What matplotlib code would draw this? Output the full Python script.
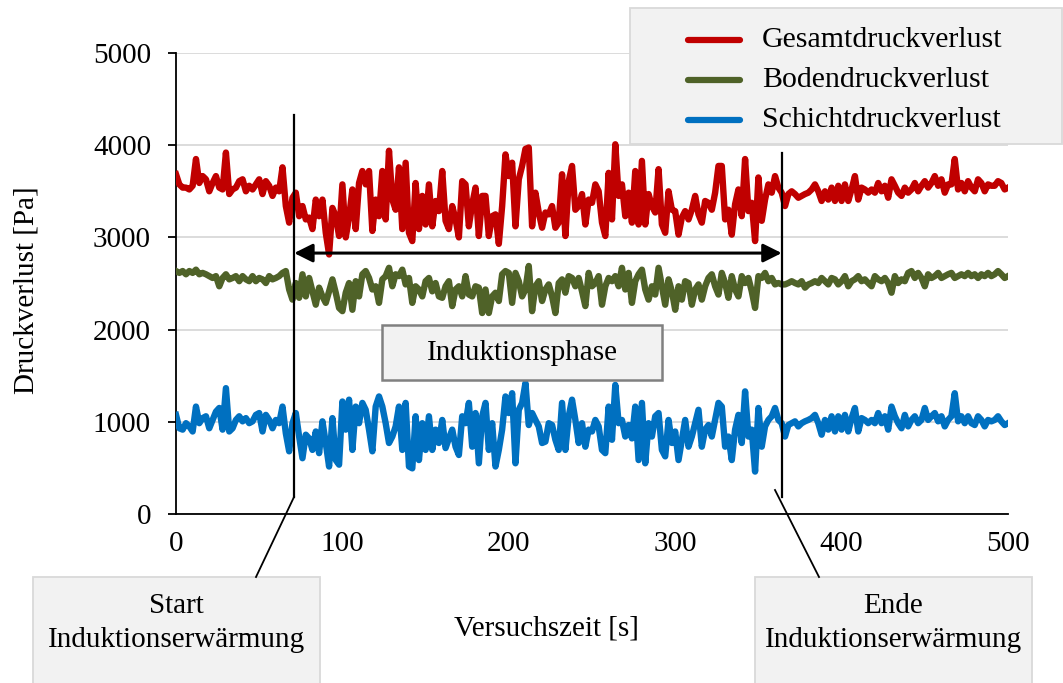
import numpy as np
import matplotlib
matplotlib.use("Agg")
import matplotlib.pyplot as plt
from matplotlib.patches import Rectangle
from matplotlib.lines import Line2D

plt.rcParams['font.family'] = ['Liberation Serif', 'DejaVu Serif']

zeit = np.arange(0, 501, 2)

gesamt = [
    3685, 3575, 3540, 3540, 3520, 3560, 3850, 3590, 3665, 3630, 3500, 3590,
    3665, 3540, 3520, 3920, 3470, 3520, 3540, 3610, 3630, 3500, 3560, 3520,
    3575, 3630, 3470, 3610, 3560, 3450, 3540, 3500, 3760, 3340, 3160, 3430,
    3485, 3230, 3340, 3195, 3215, 3090, 3410, 3230, 3410, 3050, 2815, 3320,
    3230, 3015, 3575, 3000, 3215, 3520, 3090, 3590, 3720, 3575, 3720, 3070,
    3410, 3230, 3720, 3195, 3940, 3410, 3300, 3760, 3090, 3810, 3050, 2960,
    3590, 3090, 3450, 3140, 3575, 3120, 3395, 3285, 3720, 3180, 3090, 3340,
    3195, 3000, 3610, 3575, 3120, 3360, 3540, 3015, 3450, 3450, 3015, 3230,
    3250, 2930, 3340, 3900, 3665, 3810, 3120, 3630, 3775, 3960, 3975, 3120,
    3485, 3270, 3105, 3270, 3250, 3340, 3105, 3160, 3685, 3015, 3610, 3775,
    3300, 3340, 3470, 3140, 3410, 3375, 3575, 3500, 3160, 3015, 3700, 3195,
    4010, 3450, 3575, 3230, 3485, 3160, 3720, 3140, 3830, 3140, 3470, 3340,
    3270, 3740, 3140, 3050, 3500, 3300, 3285, 3030, 3215, 3285, 3195, 3300,
    3450, 3250, 3160, 3395, 3375, 3300, 3485, 3775, 3775, 3195, 3300, 3030,
    3360, 3520, 3230, 3850, 3285, 3375, 2960, 3650, 3180, 3410, 3575, 3485,
    3665, 3540, 3485, 3340, 3470, 3500, 3470, 3430, 3450, 3470, 3485, 3520,
    3575, 3500, 3395, 3500, 3410, 3540, 3395, 3560, 3395, 3575, 3395, 3520,
    3665, 3410, 3540, 3520, 3485, 3520, 3485, 3590, 3500, 3560, 3430, 3630,
    3560, 3485, 3450, 3540, 3485, 3520, 3590, 3500, 3560, 3610, 3540, 3590,
    3665, 3560, 3630, 3485, 3575, 3575, 3850, 3520, 3590, 3500, 3610, 3540,
    3500, 3630, 3590, 3500, 3575, 3560, 3560, 3610, 3590, 3520, 3540,
]

boden = [
    2635, 2615, 2635, 2600, 2635, 2615, 2650, 2600, 2615, 2600, 2580, 2560,
    2580, 2470, 2560, 2600, 2545, 2560, 2580, 2525, 2580, 2545, 2525, 2580,
    2525, 2560, 2545, 2505, 2580, 2545, 2560, 2580, 2615, 2635, 2435, 2325,
    2505, 2345, 2600, 2360, 2560, 2415, 2270, 2455, 2360, 2290, 2415, 2545,
    2400, 2235, 2200, 2400, 2505, 2215, 2525, 2360, 2600, 2635, 2560, 2435,
    2470, 2290, 2545, 2580, 2670, 2470, 2600, 2580, 2650, 2490, 2560, 2290,
    2470, 2435, 2360, 2525, 2560, 2415, 2505, 2360, 2345, 2470, 2525, 2255,
    2435, 2470, 2360, 2580, 2380, 2360, 2470, 2455, 2180, 2435, 2180, 2360,
    2400, 2310, 2600, 2635, 2615, 2290, 2615, 2525, 2360, 2435, 2690, 2200,
    2470, 2525, 2310, 2435, 2490, 2360, 2180, 2505, 2545, 2400, 2580, 2560,
    2470, 2560, 2415, 2255, 2615, 2470, 2505, 2580, 2270, 2470, 2560, 2525,
    2580, 2470, 2670, 2435, 2615, 2290, 2525, 2600, 2650, 2435, 2325, 2470,
    2380, 2670, 2470, 2270, 2545, 2415, 2215, 2470, 2325, 2525, 2505, 2270,
    2435, 2490, 2325, 2470, 2560, 2600, 2470, 2380, 2615, 2505, 2345, 2580,
    2435, 2360, 2580, 2505, 2560, 2415, 2235, 2580, 2560, 2615, 2525, 2560,
    2490, 2505, 2490, 2490, 2505, 2525, 2505, 2490, 2525, 2455, 2490, 2505,
    2525, 2505, 2560, 2525, 2490, 2560, 2545, 2490, 2525, 2580, 2470, 2525,
    2545, 2580, 2525, 2545, 2505, 2470, 2580, 2545, 2525, 2560, 2505, 2400,
    2580, 2505, 2545, 2525, 2615, 2635, 2560, 2615, 2560, 2470, 2600, 2560,
    2580, 2615, 2560, 2580, 2600, 2615, 2560, 2580, 2600, 2580, 2615, 2580,
    2600, 2560, 2600, 2580, 2615, 2580, 2600, 2635, 2600, 2560, 2580,
]

schicht = [
    1075, 930, 915, 985, 950, 895, 1165, 985, 1040, 1060, 930, 1020,
    1110, 1150, 915, 1365, 895, 930, 1020, 1060, 1005, 1040, 985, 1005,
    1075, 1095, 895, 1075, 1020, 930, 1020, 985, 1165, 875, 680, 985,
    1095, 840, 605, 860, 820, 695, 895, 660, 1005, 770, 515, 1040,
    585, 535, 1220, 915, 1240, 695, 1165, 985, 1205, 1130, 915, 680,
    1165, 1275, 1165, 985, 770, 840, 950, 1165, 695, 1205, 515, 495,
    1060, 585, 985, 695, 1060, 695, 915, 770, 1020, 715, 820, 915,
    730, 640, 1060, 985, 1205, 730, 1095, 550, 1060, 1205, 695, 985,
    515, 695, 915, 1275, 1095, 1310, 550, 1130, 1205, 1420, 965, 1095,
    1020, 950, 770, 785, 985, 965, 805, 695, 1205, 695, 1060, 1240,
    1020, 770, 985, 730, 915, 895, 1020, 950, 695, 660, 1165, 805,
    1400, 985, 1020, 840, 965, 820, 1165, 585, 1205, 550, 985, 840,
    1060, 1095, 695, 625, 1020, 770, 895, 585, 805, 1020, 730, 840,
    985, 1130, 730, 915, 965, 840, 1020, 1205, 1165, 730, 840, 585,
    915, 1075, 770, 1330, 840, 915, 460, 1150, 730, 950, 1020, 1060,
    1150, 1020, 985, 840, 965, 985, 1005, 950, 985, 1005, 1020, 1040,
    1075, 985, 860, 1020, 915, 1060, 895, 1060, 915, 1075, 895, 1040,
    1150, 895, 1040, 1020, 985, 1020, 985, 1095, 985, 1060, 915, 1165,
    1060, 985, 930, 1075, 950, 1020, 1060, 985, 1020, 1150, 1020, 1060,
    1095, 1005, 1060, 950, 1020, 1060, 1310, 1005, 1060, 985, 1060, 985,
    965, 1060, 1020, 950, 1020, 1005, 1020, 1060, 1005, 965, 985,
]

namen = ["Gesamtdruckverlust", "Bodendruckverlust", "Schichtdruckverlust"]
farben = ["#C00000", "#4F6228", "#0070C0"]

t_start = 71
t_ende = 364

fs = 21

W, H = 1063, 683
fig = plt.figure(figsize=(W / 100, H / 100), dpi=100)


def fx(px):
    return px / W


def fy(py):
    return 1 - py / H


ax = fig.add_axes([fx(176), fy(514), fx(1008) - fx(176), fy(53) - fy(514)])

for werte, farbe in zip([gesamt, boden, schicht], farben):
    ax.plot(zeit, werte, color=farbe, lw=4.6, solid_joinstyle='round', zorder=3)

ax.set_xlim(0, 500)
ax.set_ylim(0, 5000)
ax.set_xticks([0, 100, 200, 300, 400, 500])
ax.set_yticks([0, 1000, 2000, 3000, 4000, 5000])
ax.yaxis.grid(True, color="#d9d9d9", lw=1.3)
ax.set_axisbelow(True)
for s in ["top", "right"]:
    ax.spines[s].set_visible(False)
ax.spines["left"].set_linewidth(1.3)
ax.spines["bottom"].set_linewidth(1.3)
ax.tick_params(axis="y", direction="out", length=6, width=1.3, pad=12, labelsize=fs)
ax.tick_params(axis="x", length=0, pad=12, labelsize=fs)

fig.text(fx(27), fy(290), "Druckverlust [Pa]", rotation=90, ha="center", va="center", fontsize=fs)
fig.text(fx(546), fy(628), "Versuchszeit [s]", ha="center", va="center", fontsize=fs)

# Start / Ende Linien und Pfeil
ax.plot([t_start, t_start], [184, 4328], color="black", lw=1.6, zorder=5)
ax.plot([t_ende, t_ende], [184, 3915], color="black", lw=1.6, zorder=5)
ax.annotate("", xy=(t_start, 2830), xytext=(t_ende, 2830),
            arrowprops=dict(arrowstyle="<|-|>", color="black", lw=2.2, mutation_scale=28,
                            shrinkA=0, shrinkB=0), zorder=6)

# Induktionsphase Box
fig.add_artist(Rectangle((fx(382), fy(380)), fx(662) - fx(382), fy(325) - fy(380),
                         facecolor="#f2f2f2", edgecolor="#808080", lw=1.8, zorder=7))
fig.text(fx(522), fy(353), "Induktionsphase", ha="center", va="center", fontsize=fs, zorder=8)

# Start / Ende Boxen
fig.add_artist(Rectangle((fx(33), fy(700)), fx(320) - fx(33), fy(577) - fy(700),
                         facecolor="#f2f2f2", edgecolor="#d9d9d9", lw=1.3))
fig.text(fx(176), fy(623), "Start\nInduktionserwärmung", ha="center", va="center",
         fontsize=fs, linespacing=1.4)
fig.add_artist(Rectangle((fx(755), fy(700)), fx(1032) - fx(755), fy(577) - fy(700),
                         facecolor="#f2f2f2", edgecolor="#d9d9d9", lw=1.3))
fig.text(fx(893), fy(623), "Ende\nInduktionserwärmung", ha="center", va="center",
         fontsize=fs, linespacing=1.4)
fig.add_artist(Line2D([fx(294), fx(256)], [fy(497), fy(577)], color="black", lw=1.3))
fig.add_artist(Line2D([fx(775), fx(819)], [fy(490), fy(577)], color="black", lw=1.3))

# Legende
fig.add_artist(Rectangle((fx(630), fy(144)), fx(1062) - fx(630), fy(8) - fy(144),
                         facecolor="#f2f2f2", edgecolor="#d9d9d9", lw=1.3, zorder=9))
for i, (name, farbe) in enumerate(zip(namen, farben)):
    yy = fy(40 + i * 40)
    fig.add_artist(Line2D([fx(688), fx(740)], [yy, yy], color=farbe, lw=4.5,
                          solid_capstyle="round", zorder=10))
    fig.text(fx(762), yy, name, ha="left", va="center", fontsize=fs + 0.5, zorder=10)

fig.savefig("out.png", dpi=100)
